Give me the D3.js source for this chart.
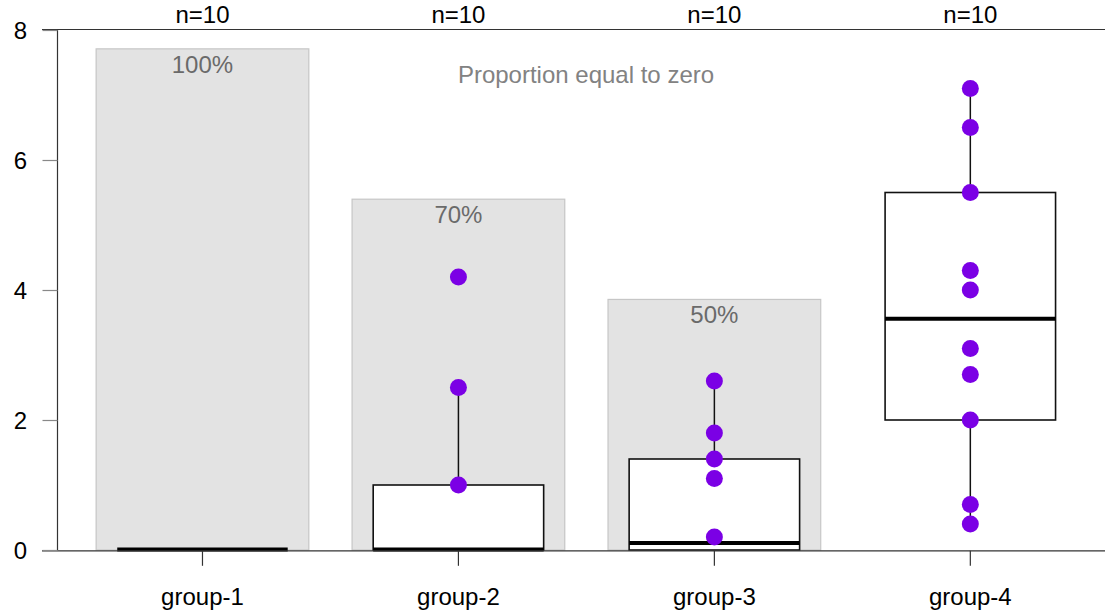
<!DOCTYPE html>
<html>
<head>
<meta charset="utf-8">
<script src="https://cdn.jsdelivr.net/npm/d3@7"></script>
<style>
  html, body { margin: 0; padding: 0; background: #fff; }
  svg { display: block; }
  text { font-family: "Liberation Sans", Arial, sans-serif; }
</style>
</head>
<body>
<svg id="chart" width="1105" height="612"></svg>
<script>
// Groups and observations (ten per group)
const groups = ["group-1", "group-2", "group-3", "group-4"];
const group1Values = [0, 0, 0, 0, 0, 0, 0, 0, 0, 0];
const group2Values = [0, 0, 0, 0, 0, 0, 0, 1.0, 2.5, 4.2];
const group3Values = [0, 0, 0, 0, 0, 0.2, 1.1, 1.4, 1.8, 2.6];
const group4Values = [0.4, 0.7, 2.0, 2.7, 3.1, 4.0, 4.3, 5.5, 6.5, 7.1];
const yTicks = [0, 2, 4, 6, 8];
// Height of a background bar when every value is zero
const zeroBarFull = 7.71;

const allValues = [group1Values, group2Values, group3Values, group4Values];

// Tukey five-number summary (hinges), as used by classic boxplots
function fivenum(arr) {
  const x = arr.slice().sort(d3.ascending);
  const n = x.length;
  const n4 = Math.floor((n + 3) / 2) / 2;
  const idx = [1, n4, (n + 1) / 2, n + 1 - n4, n];
  return idx.map(i => 0.5 * (x[Math.floor(i) - 1] + x[Math.ceil(i) - 1]));
}

const stats = groups.map((g, i) => {
  const v = allValues[i];
  const f = fivenum(v);
  const iqr = f[3] - f[1];
  const lo = d3.min(v.filter(d => d >= f[1] - 1.5 * iqr));
  const hi = d3.max(v.filter(d => d <= f[3] + 1.5 * iqr));
  const zeros = v.filter(d => d === 0).length / v.length;
  return { g, v, q1: f[1], med: f[2], q3: f[3], lo, hi, zeros, n: v.length };
});

const svg = d3.select("#chart");
const W = 1105;

const x = d3.scaleBand().domain(groups).range([74.5, 1098.3]).padding(0);
const bw = x.bandwidth();
const cx = g => x(g) + bw / 2;
const y = d3.scaleLinear().domain([0, 8]).range([550, 30]);

const barW = bw * 0.831;
const boxW = bw * 0.666;

// Background bars: share of values equal to zero
const bars = svg.append("g");
stats.filter(s => s.zeros > 0).forEach(s => {
  const top = y(s.zeros * zeroBarFull);
  bars.append("rect")
    .attr("x", cx(s.g) - barW / 2)
    .attr("y", top)
    .attr("width", barW)
    .attr("height", y(0) - top)
    .attr("fill", "#e3e3e3")
    .attr("stroke", "#c6c6c6")
    .attr("stroke-width", 1.2);
  bars.append("text")
    .attr("x", cx(s.g))
    .attr("y", top + 24)
    .attr("text-anchor", "middle")
    .attr("font-size", 24)
    .attr("fill", "#6a6a6a")
    .text(d3.format(".0%")(s.zeros));
});

svg.append("text")
  .attr("x", 586)
  .attr("y", 83)
  .attr("text-anchor", "middle")
  .attr("font-size", 24)
  .attr("fill", "#828282")
  .text("Proportion equal to zero");

// Boxplots
const boxes = svg.append("g");
stats.forEach(s => {
  const c = cx(s.g);
  // whiskers
  if (s.hi > s.q3) {
    boxes.append("line")
      .attr("x1", c).attr("x2", c)
      .attr("y1", y(s.q3)).attr("y2", y(s.hi))
      .attr("stroke", "#111").attr("stroke-width", 1.5);
  }
  if (s.lo < s.q1) {
    boxes.append("line")
      .attr("x1", c).attr("x2", c)
      .attr("y1", y(s.q1)).attr("y2", y(s.lo))
      .attr("stroke", "#111").attr("stroke-width", 1.5);
  }
  if (s.q3 > s.q1) {
    boxes.append("rect")
      .attr("x", c - boxW / 2)
      .attr("y", y(s.q3))
      .attr("width", boxW)
      .attr("height", y(s.q1) - y(s.q3))
      .attr("fill", "#fff")
      .attr("stroke", "#111")
      .attr("stroke-width", 1.6);
  }
  boxes.append("line")
    .attr("x1", c - boxW / 2).attr("x2", c + boxW / 2)
    .attr("y1", y(s.med) - 0.5).attr("y2", y(s.med) - 0.5)
    .attr("stroke", "#000").attr("stroke-width", 4);
});

// Axes frame
const frame = svg.append("g").attr("stroke", "#333").attr("stroke-width", 1.2);
frame.append("line").attr("x1", 42).attr("x2", W).attr("y1", y(8) - 0.5).attr("y2", y(8) - 0.5);
frame.append("line").attr("x1", 42).attr("x2", W).attr("y1", y(0) + 0.8).attr("y2", y(0) + 0.8);
frame.append("line").attr("x1", 57.5).attr("x2", 57.5).attr("y1", y(8)).attr("y2", y(0));

// Left axis
const yAxis = d3.axisLeft(y).tickValues(yTicks).tickSize(15).tickPadding(22).tickFormat(d3.format("d"));
const ya = svg.append("g").attr("transform", "translate(57.5,0)").call(yAxis);
ya.select(".domain").remove();
ya.selectAll(".tick line").attr("stroke", "#888").attr("stroke-width", 1.2);
ya.selectAll(".tick text")
  .attr("font-size", 24)
  .attr("font-family", "Liberation Sans, Arial, sans-serif")
  .attr("fill", "#000")
  .attr("text-anchor", "middle")
  .attr("x", -37)
  .attr("dy", "0.35em");

// Bottom axis
const xAxis = d3.axisBottom(x).tickSize(15).tickPadding(0);
const xa = svg.append("g").attr("transform", `translate(0,${y(0) + 0.8})`).call(xAxis);
xa.select(".domain").remove();
xa.selectAll(".tick line").attr("stroke", "#333").attr("stroke-width", 1.2);
xa.selectAll(".tick text")
  .attr("font-size", 24)
  .attr("font-family", "Liberation Sans, Arial, sans-serif")
  .attr("fill", "#000")
  .attr("y", 54)
  .attr("dy", 0);

// Sample sizes along the top
svg.append("g").selectAll("text").data(stats).join("text")
  .attr("x", s => cx(s.g))
  .attr("y", 23)
  .attr("text-anchor", "middle")
  .attr("font-size", 24)
  .attr("fill", "#000")
  .text(s => "n=" + s.n);

// Non-zero observations
svg.append("g").selectAll("circle")
  .data(stats.flatMap(s => s.v.filter(d => d !== 0).map(d => ({ g: s.g, v: d }))))
  .join("circle")
  .attr("cx", d => cx(d.g))
  .attr("cy", d => y(d.v))
  .attr("r", 8.5)
  .attr("fill", "#7b00e5");
</script>
</body>
</html>
